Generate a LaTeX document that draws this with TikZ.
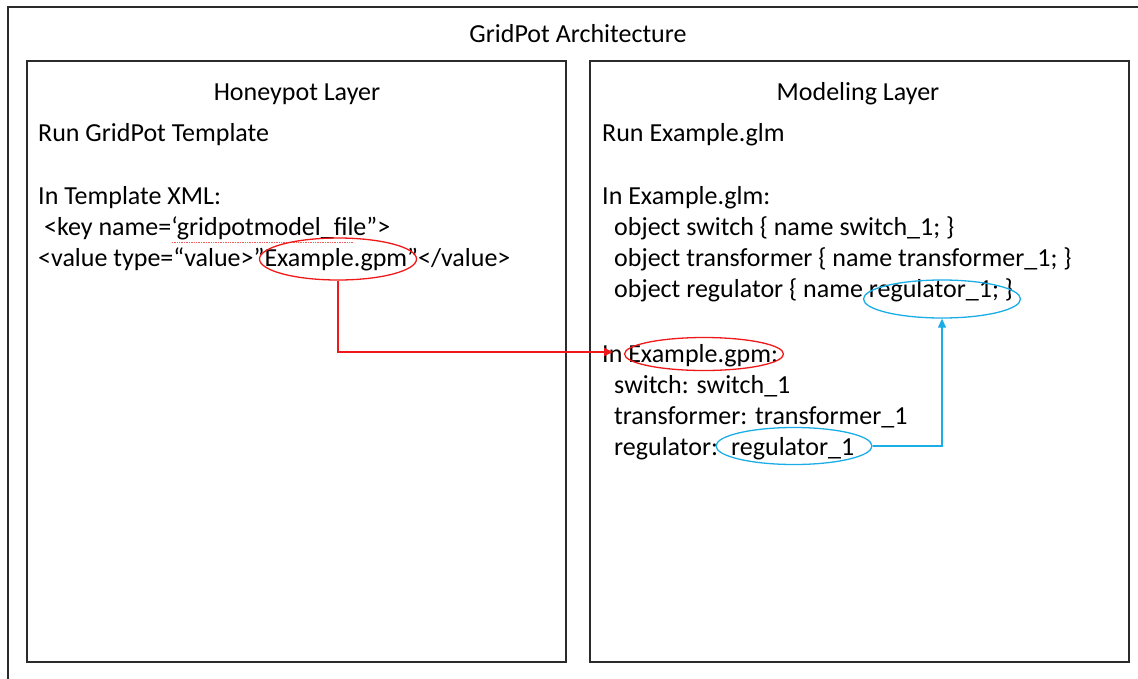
\documentclass[tikz,border=0pt]{standalone}
\usepackage{fontspec}
\setmainfont{Carlito}
\usetikzlibrary{shapes.geometric,arrows.meta}
\definecolor{frame}{HTML}{2B2B2B}
\definecolor{mark}{HTML}{F01818}
\definecolor{link}{HTML}{1AADE6}
\tikzset{
  layer/.style={draw=frame,line width=1.4pt},
  txt/.style={anchor=base west,inner sep=0pt,font=\fontsize{26}{31}\selectfont},
  title/.style={anchor=base,inner sep=0pt,font=\fontsize{26}{31}\selectfont},
  hl/.style={ellipse,draw=#1,line width=1.3pt,inner sep=0pt},
  conn/.style={draw=#1,line width=1.3pt,-{Triangle[length=9pt,width=8pt]}}
}
\begin{document}
\begin{tikzpicture}[x=1pt,y=-1pt]
\useasboundingbox (0,0) rectangle (1138,678);
% outer frame and the two layers
\draw[layer] (8,7) rectangle (1150,690);
\draw[layer] (27,61) rectangle (566,662);
\draw[layer] (590,61) rectangle (1129,662);
\node[title] (arch) at (578,42) {GridPot Architecture};
\node[title] (hp) at (297,100) {Honeypot Layer};
\node[title] (ml) at (858,100) {Modeling Layer};
% honeypot layer text
\node[txt] (l1) at (38,141) {Run GridPot Template};
\node[txt] (l2) at (38,204) {In Template XML:};
\node[txt] (l3) at (44,235) {<key name=‘gridpotmodel\_file”>};
\node[txt] (l4) at (38,266) {<value type=“value>”Example.gpm”</value>};
\draw[mark!70,line width=0.7pt,densely dotted] (172,242) -- (353,242);
% modeling layer text
\node[txt] (r1) at (602,141) {Run Example.glm};
\node[txt] (r2) at (602,204) {In Example.glm:};
\node[txt] (r3) at (614,235) {object switch \{ name switch\_1; \}};
\node[txt] (r4) at (614,266) {object transformer \{ name transformer\_1; \}};
\node[txt] (r5) at (614,297) {object regulator \{ name regulator\_1; \}};
\node[txt] (r6) at (602,362) {In Example.gpm:};
\node[txt] (r7) at (614,393) {switch: switch\_1};
\node[txt] (r8) at (614,424) {transformer: transformer\_1};
\node[txt] (r9) at (614,455) {regulator:};
\node[txt] (r10) at (731,455) {regulator\_1};
% highlight ellipses
\node[hl=mark,minimum width=157pt,minimum height=42pt] (e1) at (338,259) {};
\node[hl=mark,minimum width=159pt,minimum height=33pt] (e2) at (704,354) {};
\node[hl=link,minimum width=157pt,minimum height=38pt] (e3) at (942,299) {};
\node[hl=link,minimum width=156pt,minimum height=37pt] (e4) at (794,446) {};
% connectors
\coordinate (tip) at (613,352);
\draw[conn=mark] (e1.south) |- (tip);
\draw[conn=link] (e4.east) -| (e3.south);
\end{tikzpicture}
\end{document}
